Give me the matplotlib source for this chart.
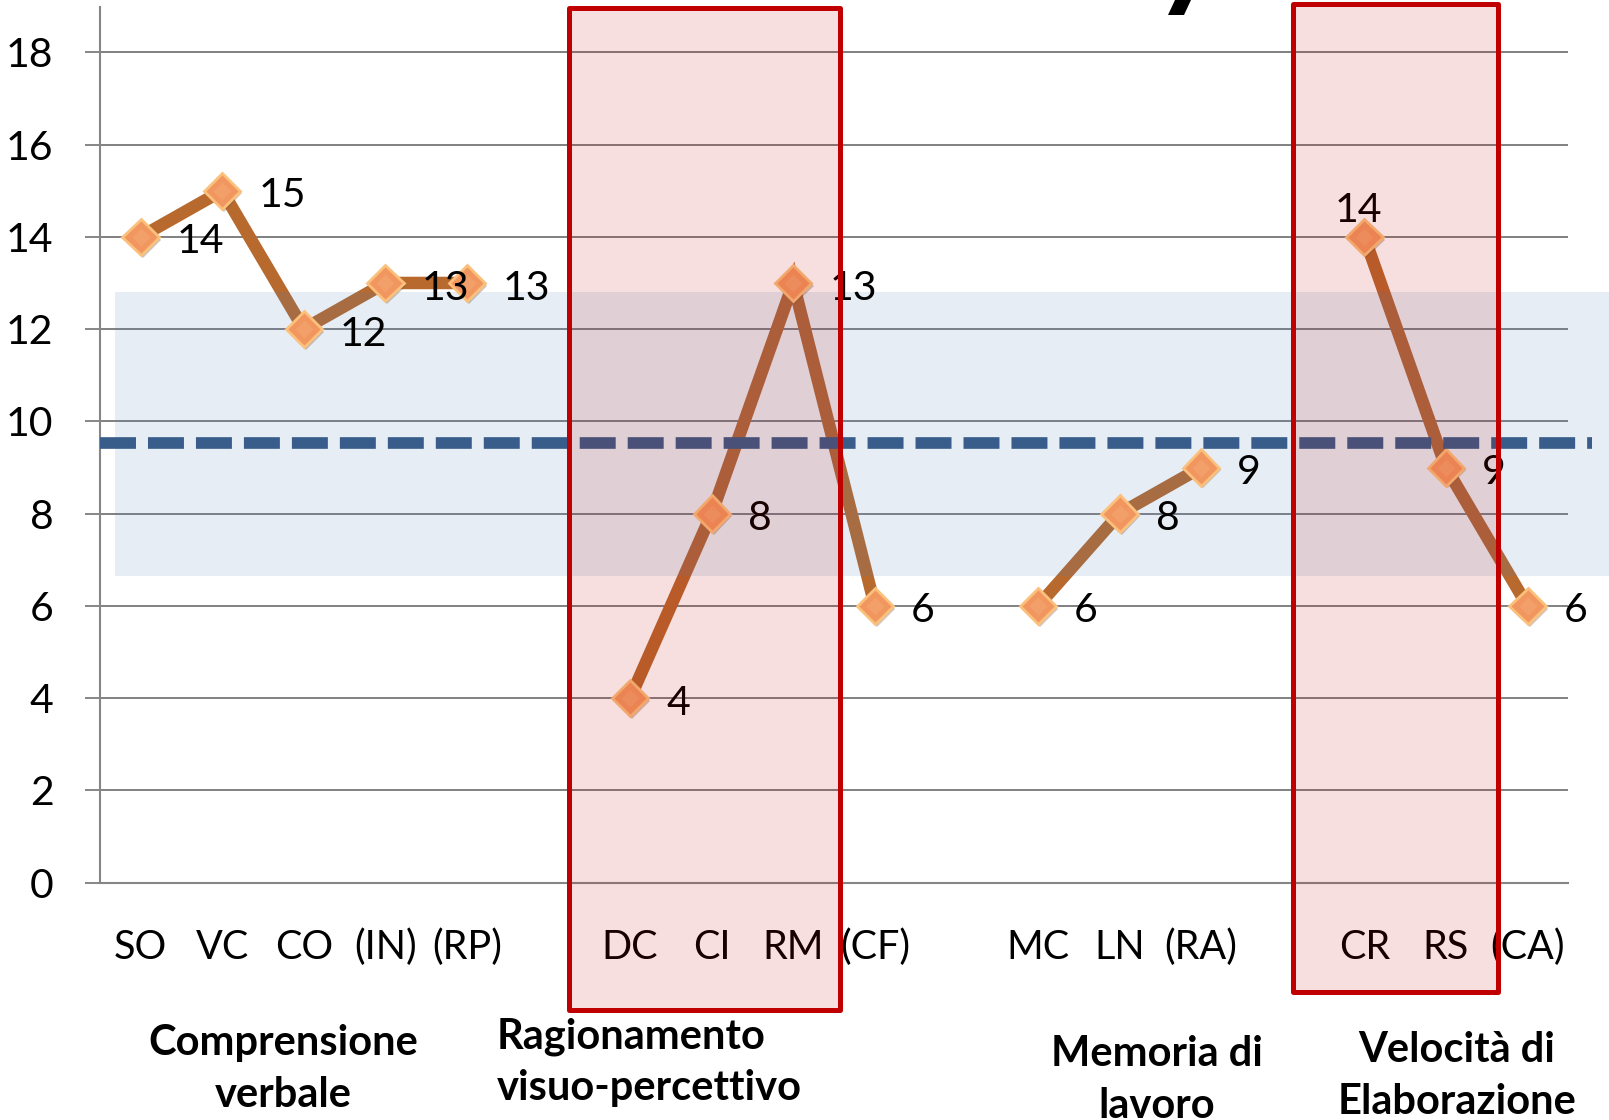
import matplotlib
matplotlib.use("Agg")
import matplotlib.pyplot as plt
import matplotlib.patheffects as pe
from matplotlib.patches import Rectangle, Polygon
import numpy as np

# ---------------- data ----------------
categories = ['SO', 'VC', 'CO', '(IN)', '(RP)', '',
              'DC', 'CI', 'RM', '(CF)', '',
              'MC', 'LN', '(RA)', '',
              'CR', 'RS', '(CA)']
scores = [14, 15, 12, 13, 13, np.nan,
          4, 8, 13, 6, np.nan,
          6, 8, 9, np.nan,
          14, 9, 6]
labels_above = ['CR']
yticks = [0, 2, 4, 6, 8, 10, 12, 14, 16, 18]
mean_value = 9.54
band_low, band_high = 6.65, 12.8
group_names = ['Comprensione\nverbale', 'Ragionamento\nvisuo-percettivo',
               'Memoria di\nlavoro', 'Velocità di\nElaborazione']

# ---------------- style ----------------
plt.rcParams['font.family'] = ['Lato', 'DejaVu Sans']
W, H = 1609, 1120
fig = plt.figure(figsize=(W / 100, H / 100), dpi=100)
fig.patch.set_facecolor('white')

ax_left, ax_right = 99.8, 1568.3
ax_bottom_px, ax_top_px = 882.7, 7.1
ax = fig.add_axes([ax_left / W, (H - ax_bottom_px) / H,
                   (ax_right - ax_left) / W, (ax_bottom_px - ax_top_px) / H])
ax.set_facecolor('none')
ax.set_xlim(-0.5, len(categories) - 0.5)
ax.set_ylim(0, 18.98)

for s in ['top', 'right']:
    ax.spines[s].set_visible(False)
ax.spines['left'].set_color('#868686')
ax.spines['left'].set_linewidth(1.5)
ax.spines['bottom'].set_color('#868686')
ax.spines['bottom'].set_linewidth(1.5)

ax.set_yticks(yticks)
ax.set_yticklabels([str(t) for t in yticks])
ax.tick_params(axis='y', direction='out', length=10.8, width=1.4,
               color='#868686', pad=22.5, labelsize=29.5, labelcolor='black')
ax.set_xticks([])
ax.yaxis.grid(True, color='#808080', linewidth=1.4)
ax.set_axisbelow(True)

x = np.arange(len(categories))
y = np.array(scores, dtype=float)

# line
ax.plot(x, y, color='#B7692E', linewidth=9, solid_capstyle='butt',
        solid_joinstyle='miter', zorder=2)

# light blue band (range)
ax.add_patch(Rectangle((-0.314, band_low), 18.6, band_high - band_low,
                       facecolor='#4F81BD', alpha=0.14, edgecolor='none',
                       clip_on=False, zorder=2.5))

# mean dashed line
lw_d = 8.4
ax.plot([-0.5, 17.79], [mean_value, mean_value], color='#385D8A',
        linewidth=lw_d, linestyle=(0, (25.9 / lw_d, 8.64 / lw_d)),
        dash_capstyle='butt', clip_on=False, zorder=3.5)

# markers
ax.plot(x, y, linestyle='none', marker='D', markersize=18.5,
        markerfacecolor='#F29660', markeredgecolor='#FAC07C',
        markeredgewidth=2, zorder=3,
        path_effects=[pe.SimplePatchShadow(offset=(1.5, -2), shadow_rgbFace='#7a5a40', alpha=0.35),
                      pe.Normal()])
# highlight (gradient hint)
ax.plot(x, y, linestyle='none', marker='D', markersize=9,
        markerfacecolor='#F4A872', markeredgecolor='none', alpha=0.55, zorder=3.1)

# data labels
for i, (c, v) in enumerate(zip(categories, scores)):
    if np.isnan(v):
        continue
    if c in labels_above:
        ax.annotate(f'{int(v)}', (i, v), xytext=(-4.5, 11), textcoords='offset points',
                    ha='center', va='baseline', fontsize=29.5, color='black', zorder=4)
    else:
        ax.annotate(f'{int(v)}', (i, v), xytext=(26, -11.9), textcoords='offset points',
                    ha='left', va='baseline', fontsize=29.5, color='black', zorder=4)

# category labels
for i, c in enumerate(categories):
    if c:
        ax.text(i, -1.654, c, ha='center', va='baseline', fontsize=28.5,
                color='black', clip_on=False, zorder=4)

# group labels (figure pixel coords: x, first baseline, align)
group_layout = [(283, 1055, 'center'), (497, 1048, 'left'),
                (1156.5, 1066, 'center'), (1457, 1062, 'center')]
for name, (gx, gy, al) in zip(group_names, group_layout):
    for k, line in enumerate(name.split('\n')):
        fig.text(gx / W, 1 - (gy + 52 * k) / H, line, ha=al, va='baseline',
                 fontsize=30, fontweight='bold', color='black')

# red highlight rectangles
for (x0, x1, y0, y1) in [(5.257, 8.573, -2.770, 18.957), (14.120, 16.633, -2.369, 19.046)]:
    ax.add_patch(Rectangle((x0, y0), x1 - x0, y1 - y0, facecolor=(0.753, 0, 0, 0.125),
                           edgecolor='#C00000', linewidth=3.6, clip_on=False,
                           zorder=10, joinstyle='round'))

# fragment of the title glyph at top
frag = np.array([[1175, 0], [1191, 0], [1184, 15], [1168, 15]], dtype=float)
fig.patches.append(Polygon(np.column_stack([frag[:, 0] / W, 1 - frag[:, 1] / H]),
                           closed=True, transform=fig.transFigure, facecolor='black',
                           edgecolor='none', joinstyle='round'))

fig.savefig('out.png', dpi=100)
